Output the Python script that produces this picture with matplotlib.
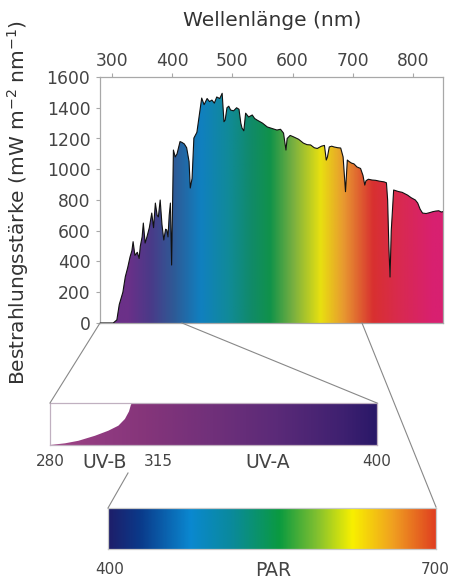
import numpy as np
import matplotlib
matplotlib.use('Agg')
import matplotlib.pyplot as plt
from matplotlib.colors import LinearSegmentedColormap
from matplotlib.patches import Polygon
from matplotlib.lines import Line2D

# ---------------- data ----------------
wavelength = [280, 300, 302, 308, 312, 318, 322, 326, 330, 333, 335, 338, 342, 345, 347, 350, 352,
              355, 358, 362, 366, 369, 372, 375, 377, 380, 383, 386, 389, 391, 393, 395, 397, 399,
              402, 405, 408, 413, 416, 420, 424, 428, 430, 433, 436, 441, 445, 449, 453, 458, 462,
              466, 470, 474, 479, 483, 486, 488, 491, 494, 497, 502, 507, 511, 514, 516, 519, 522,
              527, 533, 537, 541, 550, 558, 566, 574, 580, 585, 589, 591, 596, 602, 610, 618, 624,
              630, 636, 641, 648, 653, 656, 658, 661, 665, 669, 675, 680, 684, 688, 691, 694, 698,
              702, 707, 713, 717, 720, 722, 726, 732, 738, 745, 752, 756, 758, 760, 762, 764, 768,
              776, 782, 791, 797, 804, 808, 812, 816, 822, 828, 833, 838, 843, 847, 850]
irradiance = [0, 0, 0, 20, 120, 200, 300, 360, 431, 470, 529, 440, 460, 420, 500, 560, 650,
              520, 560, 620, 715, 620, 780, 700, 690, 800, 640, 540, 610, 605, 560, 700, 780, 377,
              1125, 1080, 1100, 1180, 1175, 1165, 1140, 1050, 878, 940, 1203, 1240, 1350, 1463, 1420, 1460, 1440,
              1450, 1430, 1470, 1460, 1494, 1309, 1320, 1400, 1410, 1385, 1380, 1400, 1390, 1300, 1268, 1250, 1365,
              1340, 1353, 1330, 1320, 1300, 1275, 1265, 1255, 1260, 1235, 1125, 1200, 1220, 1210, 1195, 1170, 1160,
              1158, 1140, 1135, 1150, 1155, 1060, 1080, 1145, 1150, 1145, 1140, 1138, 1080, 854, 1060, 1050, 1040,
              1035, 1015, 1005, 960, 897, 925, 935, 930, 928, 922, 918, 912, 800, 500, 299, 600, 865,
              855, 850, 832, 815, 800, 780, 740, 715, 712, 718, 724, 728, 730, 722, 724]

# colour stops of the spectrum fill (nm, colour)
spec_nm = [280, 325, 363, 402, 447, 492, 530, 563, 602, 647, 685, 735, 780, 835, 850]
spec_col = ['#6b3088', '#6b3088', '#4a3a88', '#2e5a96', '#1080c0', '#108a9a', '#108a6a',
            '#10924a', '#7ab040', '#e8e010', '#e89a30', '#d83030', '#d82a50', '#d82070', '#d82070']

# UV band (280-400 nm): relative height of the coloured part
uvb_nm = [280, 285.5, 290.4, 296.5, 301.4, 305.1, 307.5, 309, 309.7, 310.2, 400]
uvb_frac = [0, 0.04, 0.10, 0.22, 0.34, 0.46, 0.62, 0.80, 0.96, 1.0, 1.0]
uv_nm = [280, 300, 315, 340, 364, 388, 400]
uv_col = ['#a04585', '#8f3a80', '#85357a', '#70307a', '#5a2a78', '#3e2070', '#2a1868']

# PAR band (400-700 nm)
par_nm = [400, 429, 475, 514, 557, 591, 624, 661, 700]
par_col = ['#1e1e6a', '#0a3a8a', '#0a88d0', '#0a8a9a', '#0a9a40', '#80c030', '#f8f000',
           '#f0a020', '#e04020']

x_ticks = [300, 400, 500, 600, 700, 800]
y_ticks = [0, 200, 400, 600, 800, 1000, 1200, 1400, 1600]


def make_cmap(nm, cols):
    lo, hi = nm[0], nm[-1]
    return LinearSegmentedColormap.from_list(
        'c', [((v - lo) / (hi - lo), c) for v, c in zip(nm, cols)])


plt.rcParams['font.family'] = ['DejaVu Sans']
W, H = 453, 580
fig = plt.figure(figsize=(W / 100, H / 100), dpi=100)
TXT = '#333333'
SPINE = '#a8a8a8'


def fr(x, y):
    return (x / W, 1 - y / H)


# ---------------- main spectrum ----------------
ax = fig.add_axes([100 / W, 1 - 323 / H, 343 / W, 246 / H])
ax.set_xlim(280, 850)
ax.set_ylim(0, 1600)
grad = np.linspace(0, 1, 600).reshape(1, -1)
im = ax.imshow(grad, extent=[280, 850, 0, 1600], aspect='auto',
               cmap=make_cmap(spec_nm, spec_col), origin='lower', zorder=1)
verts = list(zip(wavelength, irradiance)) + [(wavelength[-1], 0), (wavelength[0], 0)]
poly = Polygon(verts, closed=True, facecolor='none', edgecolor='none', transform=ax.transData)
ax.add_patch(poly)
im.set_clip_path(poly)
ax.plot(wavelength, irradiance, color='#111111', lw=0.8, zorder=3)

ax.xaxis.tick_top()
ax.set_xticks(x_ticks)
ax.set_yticks(y_ticks)
ax.tick_params(axis='both', colors=SPINE, labelcolor='#444444', labelsize=12.3,
               length=3, width=0.8, direction='out')
ax.tick_params(axis='x', pad=2)
ax.tick_params(axis='y', pad=4)
for s in ax.spines.values():
    s.set_color(SPINE)
    s.set_linewidth(0.9)
ax.set_ylabel('Bestrahlungsstärke (mW m$^{-2}$ nm$^{-1}$)', fontsize=14.5, color=TXT)
ax.yaxis.set_label_coords((31 - 100) / 343, (323 - 203) / 246)

fig.text(272 / W, 1 - 21 / H, 'Wellenlänge (nm)', ha='center', va='center',
         fontsize=14.5, color=TXT)

# ---------------- UV bar ----------------
axu = fig.add_axes([50 / W, 1 - 445 / H, 327 / W, 42 / H])
axu.set_xlim(280, 400)
axu.set_ylim(0, 1)
imu = axu.imshow(grad, extent=[280, 400, 0, 1], aspect='auto',
                 cmap=make_cmap(uv_nm, uv_col), origin='lower')
uverts = list(zip(uvb_nm, uvb_frac)) + [(400, 0), (280, 0)]
upoly = Polygon(uverts, closed=True, facecolor='none', edgecolor='none', transform=axu.transData)
axu.add_patch(upoly)
imu.set_clip_path(upoly)
axu.set_xticks([])
axu.set_yticks([])
for s in axu.spines.values():
    s.set_color('#c0b0c0')
    s.set_linewidth(0.9)

ylab = 462
for x, t, fs in [(50, '280', 11), (105, 'UV-B', 13.5), (158, '315', 11),
                 (268, 'UV-A', 13.5), (377, '400', 11)]:
    fig.text(x / W, 1 - ylab / H, t, ha='center', va='center', fontsize=fs, color='#444444')

# ---------------- PAR bar ----------------
axp = fig.add_axes([108 / W, 1 - 549 / H, 328 / W, 41 / H])
axp.set_xlim(400, 700)
axp.set_ylim(0, 1)
axp.imshow(grad, extent=[400, 700, 0, 1], aspect='auto',
           cmap=make_cmap(par_nm, par_col), origin='lower')
axp.set_xticks([])
axp.set_yticks([])
for s in axp.spines.values():
    s.set_color('#c8c8c8')
    s.set_linewidth(0.9)

for x, t, fs in [(110, '400', 11), (273, 'PAR', 13.5), (435, '700', 11)]:
    fig.text(x / W, 1 - 570 / H, t, ha='center', va='center', fontsize=fs, color='#444444')

# ---------------- connector lines ----------------
for (x1, y1), (x2, y2) in [((100, 323), (50, 403)), ((182, 323), (377, 403)),
                           ((362, 323), (436, 507)), ((128, 473), (108, 508))]:
    a, b = fr(x1, y1)
    c, d = fr(x2, y2)
    fig.add_artist(Line2D([a, c], [b, d], color='#888888', lw=0.8, transform=fig.transFigure))

fig.savefig('out.png', dpi=100)
